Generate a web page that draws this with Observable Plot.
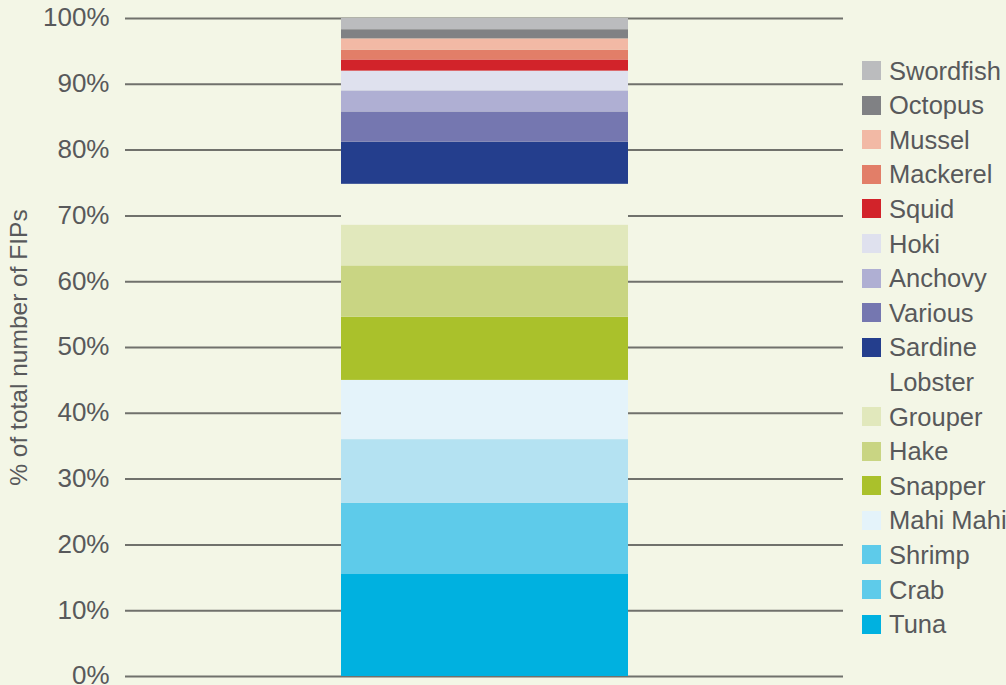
<!DOCTYPE html>
<html><head><meta charset="utf-8">
<script src="https://cdn.jsdelivr.net/npm/d3@7"></script>
<script src="https://cdn.jsdelivr.net/npm/@observablehq/plot@0.6"></script>
<style>
html,body{margin:0;padding:0;background:#f3f6e6;}
#wrap{position:relative;width:1006px;height:685px;font-family:"Liberation Sans",Arial,Helvetica,sans-serif;color:#58595b;overflow:hidden;}
#chart{position:absolute;left:0;top:0;}
#legend{position:absolute;left:862px;top:0;}
.row{position:absolute;left:0;height:24px;display:flex;align-items:center;white-space:nowrap;}
.sw{width:19px;height:19px;margin-right:8px;flex:none;}
.lab{font-size:25.5px;line-height:24px;}
</style></head><body><div id="wrap"><div id="chart"></div><div id="legend"></div></div>
<script>
// bottom-to-top stacking order
const species = ["Tuna","Crab","Shrimp","Mahi Mahi","Snapper","Hake","Grouper","Lobster","Sardine","Various","Anchovy","Hoki","Squid","Mackerel","Mussel","Octopus","Swordfish"];
const shares  = [15.5, 10.8, 9.7, 9.0, 9.6, 7.8, 6.2, 6.2, 6.4, 4.6, 3.2, 3.0, 1.7, 1.5, 1.7, 1.4, 1.7];
const barColors    = ["#00b1e0","#5ecbea","#b4e2f2","#e4f3fa","#aac12b","#c9d583","#e1e8bc","#f3f6e6","#243e8d","#7577b0","#afafd3","#dfe1ee","#d2232a","#e27e68","#f2b9a5","#808184","#bbbcbe"];
const legendColors = ["#00b1e0","#5ecbea","#5ecbea","#e4f3fa","#aac12b","#c9d583","#e1e8bc","#f3f6e6","#243e8d","#7577b0","#afafd3","#dfe1ee","#d2232a","#e27e68","#f2b9a5","#808184","#bbbcbe"];
const yTicks = [0,10,20,30,40,50,60,70,80,90,100];
const yLabel = "% of total number of FIPs";
const group = "FIPs";

const data = species.map((s,i)=>({species:s, share:shares[i], group}));
const font = '"Liberation Sans",Arial,Helvetica,sans-serif';

const chart = Plot.plot({
  width:1006, height:685,
  marginTop:18, marginBottom:9, marginLeft:125, marginRight:163,
  x:{domain:[group], padding:0.429, axis:null},
  y:{domain:[0,100], label:null},
  color:{domain:species, range:barColors},
  style:{background:"transparent", fontFamily:font, fontSize:"26px", color:"#58595b"},
  marks:[
    Plot.ruleY(yTicks,{stroke:"#70716c", strokeWidth:2}),
    Plot.barY(data,{x:"group", y:"share", fill:"species"}),
    Plot.axisY(yTicks,{tickSize:0, tickPadding:16, tickFormat:d=>d+"%", label:null, fontSize:26, dy:-0.5}),
    Plot.text([yLabel],{frameAnchor:"left", textAnchor:"middle", rotate:-90, dx:-106, fontSize:24.5, fill:"#58595b"})
  ]
});
document.getElementById("chart").appendChild(chart);

const legend = document.getElementById("legend");
const top0 = 70.5, step = 34.6;
species.slice().reverse().forEach((s,k)=>{
  const i = species.length-1-k;
  const row = document.createElement("div");
  row.className="row";
  row.style.top = (top0 + step*k - 12) + "px";
  const sw = document.createElement("div");
  sw.className="sw"; sw.style.background = legendColors[i];
  const lab = document.createElement("span");
  lab.className="lab"; lab.textContent = s;
  row.appendChild(sw); row.appendChild(lab);
  legend.appendChild(row);
});
</script></body></html>
